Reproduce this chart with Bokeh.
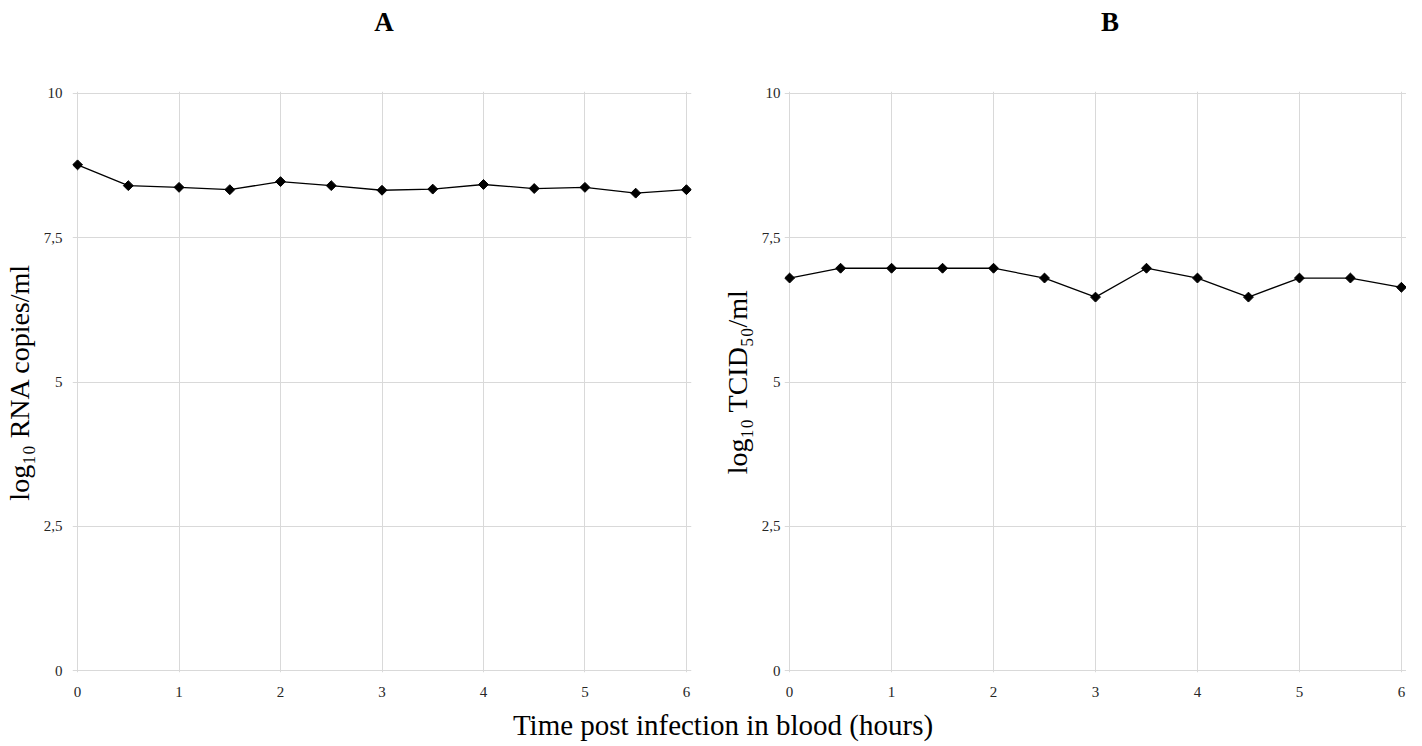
import math
from bokeh.plotting import figure
from bokeh.layouts import column, row
from bokeh.models import Range1d, FixedTicker, Div, Spacer
from bokeh.embed import file_html
from bokeh.resources import INLINE

hours = [0, 0.5, 1, 1.5, 2, 2.5, 3, 3.5, 4, 4.5, 5, 5.5, 6]
rna_log10 = [8.76, 8.40, 8.37, 8.33, 8.47, 8.40, 8.32, 8.34, 8.42, 8.35, 8.37, 8.27, 8.33]
tcid50_log10 = [6.80, 6.97, 6.97, 6.97, 6.97, 6.80, 6.47, 6.97, 6.80, 6.47, 6.80, 6.80, 6.64]

y_ticks = [0, 2.5, 5, 7.5, 10]
y_tick_labels = ["0", "2,5", "5", "7,5", "10"]
x_ticks = [0, 1, 2, 3, 4, 5, 6]

panel_titles = ["A", "B"]
y_titles = ["log\u2081\u2080 RNA copies/ml", "log\u2081\u2080 TCID\u2085\u2080/ml"]
x_title = "Time post infection in blood (hours)"

SERIF = "Liberation Serif"
GRID = "#d9d9d9"
FIG_H = 658


def make_panel(ys, ylab, width, border_left, border_right, tick_standoff, label_standoff):
    p = figure(width=width, height=FIG_H, output_backend="svg", toolbar_location=None,
               x_range=Range1d(-0.05, 6.05), y_range=Range1d(-0.03, 10.03),
               min_border_left=border_left, min_border_right=border_right,
               min_border_bottom=FIG_H - 47 - 581, min_border_top=47)
    p.outline_line_color = None
    p.background_fill_color = "white"
    p.border_fill_color = "white"
    for ax in (p.xaxis, p.yaxis):
        ax.axis_line_color = None
        ax.major_tick_line_color = None
        ax.minor_tick_line_color = None
        ax.major_label_text_font = SERIF
        ax.major_label_text_font_size = "15px"
        ax.major_label_text_color = "#262626"
    p.xaxis.ticker = FixedTicker(ticks=x_ticks)
    p.yaxis.ticker = FixedTicker(ticks=y_ticks)
    p.yaxis.major_label_overrides = {t_: l for t_, l in zip(y_ticks, y_tick_labels)}
    p.yaxis.major_label_standoff = tick_standoff
    p.xaxis.major_label_standoff = 8
    p.yaxis.axis_label = ylab
    p.yaxis.axis_label_text_font = SERIF
    p.yaxis.axis_label_text_font_size = "28px"
    p.yaxis.axis_label_text_font_style = "normal"
    p.yaxis.axis_label_text_color = "black"
    p.yaxis.axis_label_standoff = label_standoff
    p.xgrid.grid_line_color = GRID
    p.ygrid.grid_line_color = GRID
    p.line(hours, ys, line_color="black", line_width=1.3)
    p.scatter(hours, ys, marker="square", angle=math.pi / 4, size=7,
              fill_color="black", line_color="black")
    return p


# A: 67 + 624 + 15 = 706 ; B: 78 + 622 + 0 = 700  (total 1406)
pA = make_panel(rna_log10, y_titles[0], 706, 67, 15, 4, 6)
pB = make_panel(tcid50_log10, y_titles[1], 700, 78, 0, -2, 6)


def title_div(txt, w):
    return Div(text=txt, width=w, height=34,
               styles={"text-align": "center", "font-family": SERIF, "font-size": "27px",
                       "font-weight": "bold", "line-height": "34px", "color": "black"})


titles = row(Spacer(width=67, height=34), title_div(panel_titles[0], 624),
             Spacer(width=93, height=34), title_div(panel_titles[1], 622))

xdiv = Div(text=x_title, width=1376, height=36,
           styles={"text-align": "center", "font-family": SERIF, "font-size": "29px",
                   "line-height": "36px", "color": "black"})

layout = column(titles, row(pA, pB), row(Spacer(width=30, height=36), xdiv))
open("out.html", "w").write(file_html(layout, INLINE))
